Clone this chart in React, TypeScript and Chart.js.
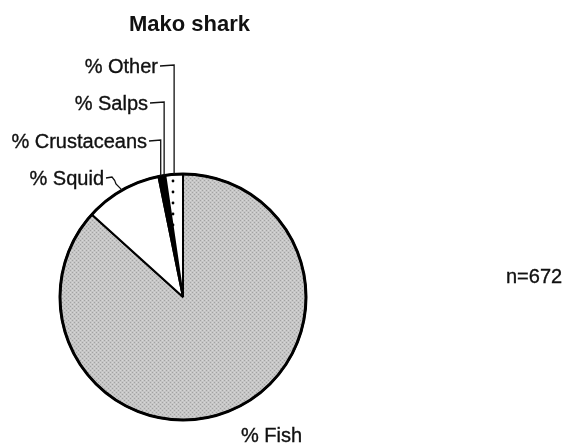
import React, { useEffect, useRef } from "react";
import { Chart, registerables } from "chart.js";

Chart.register(...registerables);

// ---- data ----
const chartTitle = "Mako shark";
const categories = ["% Fish", "% Squid", "% Crustaceans", "% Salps", "% Other"];
const percentages = [86.7, 10.1, 0.6, 0.3, 2.3];
const sampleSize = "n=672";

// ---- label layout (text anchor positions, not data) ----
const labelLayout = [
  { align: "left", x: 241, y: 442, leader: "none" },      // Fish
  { align: "right", x: 104, y: 185, leader: "squid" },    // Squid
  { align: "right", x: 147, y: 148, leader: "hook" },     // Crustaceans
  { align: "right", x: 148, y: 110, leader: "hook" },     // Salps
  { align: "right", x: 158, y: 73, leader: "hook" },      // Other
];

const FONT = '"Liberation Sans", Arial, Helvetica, sans-serif';

function makeStipple(): CanvasPattern | string {
  const c = document.createElement("canvas");
  c.width = 4;
  c.height = 4;
  const g = c.getContext("2d");
  if (!g) return "#c0c0c0";
  g.fillStyle = "#c6c6c6";
  g.fillRect(0, 0, 4, 4);
  g.fillStyle = "#a2a2a2";
  g.fillRect(0, 0, 1, 1);
  g.fillRect(2, 2, 1, 1);
  g.fillStyle = "#d6d6d6";
  g.fillRect(2, 0, 1, 1);
  g.fillRect(0, 2, 1, 1);
  return g.createPattern(c, "repeat") || "#c0c0c0";
}

function makeDots(): CanvasPattern | string {
  const c = document.createElement("canvas");
  c.width = 12;
  c.height = 11;
  const g = c.getContext("2d");
  if (!g) return "#ffffff";
  g.fillStyle = "#ffffff";
  g.fillRect(0, 0, 12, 11);
  g.fillStyle = "#000000";
  g.beginPath();
  g.arc(5, 5, 1.4, 0, Math.PI * 2);
  g.fill();
  return g.createPattern(c, "repeat") || "#ffffff";
}

const annotatePlugin = {
  id: "makoAnnotate",
  afterDatasetsDraw(chart: any) {
    const ctx = chart.ctx as CanvasRenderingContext2D;
    const meta = chart.getDatasetMeta(0);
    const arcs = meta.data as any[];
    if (!arcs.length) return;
    const cx = arcs[0].x;
    const cy = arcs[0].y;
    const R = arcs[0].outerRadius;

    // thicker outer outline
    ctx.save();
    ctx.strokeStyle = "#000";
    ctx.lineWidth = 3;
    ctx.beginPath();
    ctx.arc(cx, cy, R, 0, Math.PI * 2);
    ctx.stroke();
    ctx.restore();

    ctx.save();
    ctx.fillStyle = "#111";
    ctx.strokeStyle = "#111";
    ctx.lineWidth = 0.35;

    // title
    ctx.font = `bold 22px ${FONT}`;
    ctx.textAlign = "center";
    ctx.textBaseline = "alphabetic";
    ctx.fillText(chartTitle, 189.5, 31);

    // sample size
    ctx.font = `20px ${FONT}`;
    ctx.textAlign = "left";
    ctx.fillText(sampleSize, 506, 283);
    ctx.strokeText(sampleSize, 506, 283);

    // category labels + leaders
    categories.forEach((name, i) => {
      const lay = labelLayout[i];
      const el = arcs[i];
      const mid = (el.startAngle + el.endAngle) / 2;
      const ax = cx + R * Math.cos(mid);
      const ay = cy + R * Math.sin(mid);
      ctx.font = `20px ${FONT}`;
      ctx.textAlign = lay.align as CanvasTextAlign;
      ctx.lineWidth = 0.35;
      ctx.fillText(name, lay.x, lay.y);
      ctx.strokeText(name, lay.x, lay.y);
      const ty = lay.y - 7;
      ctx.lineWidth = 1.3;
      if (lay.leader === "hook") {
        ctx.beginPath();
        ctx.moveTo(lay.x + 2, ty);
        ctx.lineTo(ax, ty - 1);
        ctx.lineTo(ax, ay);
        ctx.stroke();
      } else if (lay.leader === "squid") {
        ctx.beginPath();
        ctx.moveTo(lay.x + 2, ty);
        ctx.lineTo(lay.x + 8, ty - 1);
        ctx.quadraticCurveTo(lay.x + 11, ty + 2, lay.x + 12, ty + 6);
        ctx.lineTo(ax, ay);
        ctx.stroke();
      }
    });
    ctx.restore();
  },
};

export default function App() {
  const ref = useRef<HTMLCanvasElement | null>(null);

  useEffect(() => {
    const canvas = ref.current;
    if (!canvas) return;
    const fills = [makeStipple(), "#ffffff", "#000000", "#000000", makeDots()];
    const chart = new Chart(canvas, {
      type: "pie",
      data: {
        labels: categories,
        datasets: [
          {
            data: percentages,
            backgroundColor: fills as any,
            borderColor: "#000000",
            borderWidth: 2,
          },
        ],
      },
      options: {
        responsive: true,
        maintainAspectRatio: false,
        animation: false,
        layout: { padding: { left: 59, right: 262, top: 173, bottom: 25 } },
        plugins: {
          legend: { display: false },
          tooltip: { enabled: false },
          title: { display: false },
        },
      },
      plugins: [annotatePlugin],
    });
    return () => chart.destroy();
  }, []);

  return (
    <div style={{ position: "absolute", left: 0, top: 0, width: 569, height: 446, background: "#fff" }}>
      <canvas ref={ref} style={{ display: "block" }} />
    </div>
  );
}
